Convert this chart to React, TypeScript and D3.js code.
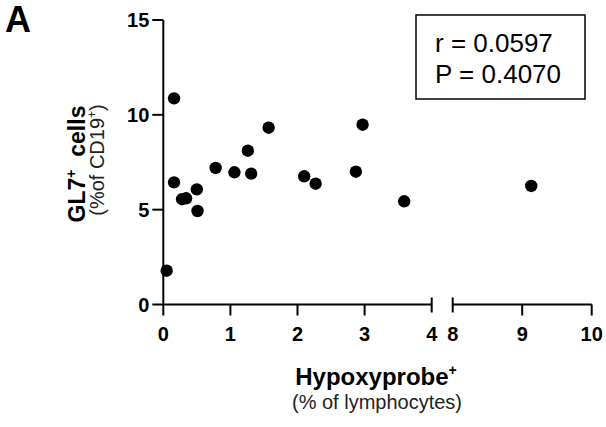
import React from 'react';
import * as d3 from 'd3';

// Hypoxyprobe+ (% of lymphocytes) vs GL7+ cells (% of CD19+)
const hypoxyprobe = [0.05, 0.16, 0.16, 0.28, 0.34, 0.50, 0.51, 0.78, 1.06, 1.26, 1.31, 1.57, 2.10, 2.27, 2.87, 2.97, 3.59, 9.13];
const gl7 = [1.78, 10.87, 6.44, 5.55, 5.60, 6.07, 4.93, 7.20, 6.97, 8.11, 6.90, 9.32, 6.76, 6.37, 7.00, 9.48, 5.44, 6.25];

const xTicksLeft = [0, 1, 2, 3, 4];
const xTicksRight = [8, 9, 10];
const yTicks = [0, 5, 10, 15];
const statLines = ['r = 0.0597', 'P = 0.4070'];

const font = 'Liberation Sans, Arial, Helvetica, sans-serif';

export default function App() {
  const width = 606;
  const height = 427;

  const y = d3.scaleLinear().domain([0, 15]).range([304.5, 20]);
  const xLeft = d3.scaleLinear().domain([0, 4]).range([163.3, 431.7]);
  const xRight = d3.scaleLinear().domain([8, 10]).range([452.7, 591.7]);
  const xPos = (v: number) => (v >= 8 ? xRight(v) : xLeft(v));

  const y0 = y(0);

  return (
    <svg width={width} height={height} style={{ position: 'absolute', left: 0, top: 0, background: '#fff' }} fontFamily={font}>
      <text x={5} y={32} fontSize={36} fontWeight="bold">A</text>

      {/* y axis */}
      <line x1={xLeft(0)} x2={xLeft(0)} y1={y(15)} y2={y0} stroke="#000" strokeWidth={2} />
      {yTicks.map((t) => (
        <g key={t}>
          <line x1={xLeft(0) - 11} x2={xLeft(0)} y1={y(t)} y2={y(t)} stroke="#000" strokeWidth={2} />
          <text x={xLeft(0) - 14} y={y(t)} dy="0.36em" textAnchor="end" fontSize={20} fontWeight="bold">{t}</text>
        </g>
      ))}

      {/* x axis, two segments */}
      <line x1={xLeft(0)} x2={xLeft(4)} y1={y0} y2={y0} stroke="#000" strokeWidth={2} />
      <line x1={xRight(8)} x2={xRight(10)} y1={y0} y2={y0} stroke="#000" strokeWidth={2} />
      <line x1={xLeft(4)} x2={xLeft(4)} y1={y0 - 7} y2={y0 + 8} stroke="#000" strokeWidth={2} />
      <line x1={xRight(8)} x2={xRight(8)} y1={y0 - 7} y2={y0 + 8} stroke="#000" strokeWidth={2} />
      {xTicksLeft.map((t) => (
        <g key={'l' + t}>
          {t < 4 && <line x1={xLeft(t)} x2={xLeft(t)} y1={y0} y2={y0 + 11} stroke="#000" strokeWidth={2} />}
          <text x={xLeft(t)} y={341} textAnchor="middle" fontSize={20} fontWeight="bold">{t}</text>
        </g>
      ))}
      {xTicksRight.map((t) => (
        <g key={'r' + t}>
          {t > 8 && <line x1={xRight(t)} x2={xRight(t)} y1={y0} y2={y0 + 11} stroke="#000" strokeWidth={2} />}
          <text x={xRight(t)} y={341} textAnchor="middle" fontSize={20} fontWeight="bold">{t}</text>
        </g>
      ))}

      {/* points */}
      {hypoxyprobe.map((v, i) => (
        <circle key={i} cx={xPos(v)} cy={y(gl7[i])} r={6.2} fill="#000" />
      ))}

      {/* stats box */}
      <rect x={416} y={15} width={169} height={84} fill="none" stroke="#000" strokeWidth={1.5} />
      {statLines.map((s, i) => (
        <text key={s} x={435} y={52 + i * 31} fontSize={26}>{s}</text>
      ))}

      {/* y title */}
      <g transform="translate(85,164) rotate(-90)">
        <text textAnchor="middle" fontSize={23} fontWeight="bold">
          GL7<tspan fontSize={14} dy={-9}>+</tspan><tspan dy={9}>{'\u00a0 cells'}</tspan>
        </text>
      </g>
      <g transform="translate(104,160) rotate(-90)">
        <text textAnchor="middle" fontSize={20} fill="#222">
          (%of CD19<tspan fontSize={12} dy={-8}>+</tspan><tspan dy={8}>)</tspan>
        </text>
      </g>

      {/* x title */}
      <text x={376} y={385} textAnchor="middle" fontSize={24} fontWeight="bold">
        Hypoxyprobe<tspan fontSize={14} dy={-10}>+</tspan>
      </text>
      <text x={377} y={409} textAnchor="middle" fontSize={20} fill="#222">(% of lymphocytes)</text>
    </svg>
  );
}
